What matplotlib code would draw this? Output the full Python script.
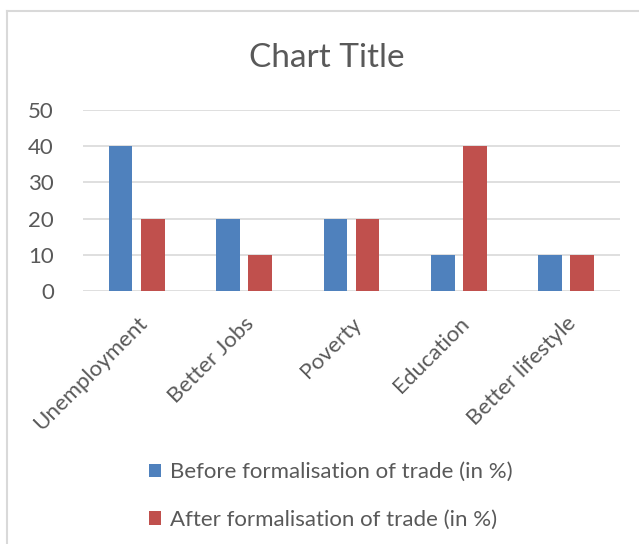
import matplotlib.pyplot as plt
import numpy as np
from matplotlib.lines import Line2D

categories = ["Unemployment", "Better Jobs", "Poverty", "Education", "Better lifestyle"]
before = [40, 20, 20, 10, 10]
after = [20, 10, 20, 40, 10]
series_names = ["Before formalisation of trade (in %)", "After formalisation of trade (in %)"]

plt.rcParams['font.family'] = ['Lato', 'DejaVu Sans']

fig = plt.figure(figsize=(6.39, 5.44), dpi=100)
ax = fig.add_axes([0.130, 0.465, 0.840, 0.333])

x = np.arange(len(categories))
w = 0.22
b1 = ax.bar(x - 0.15, before, width=w, color="#4F81BD", label=series_names[0], zorder=3)
b2 = ax.bar(x + 0.15, after, width=w, color="#C0504D", label=series_names[1], zorder=3)

ax.set_xlim(-0.5, len(categories) - 0.5)
ax.set_ylim(0, 50)
ax.set_yticks(range(0, 51, 10))
ax.yaxis.grid(True, color="#D9D9D9", linewidth=1.2, zorder=0)
for s in ax.spines.values():
    s.set_visible(False)
ax.tick_params(axis='both', length=0, labelsize=16, labelcolor="#595959")
ax.tick_params(axis='y', pad=21)
ax.set_xticks(x)
ax.set_xticklabels(categories, rotation=45, ha='right', rotation_mode='anchor')
ax.tick_params(axis='x', pad=16)

fig.text(0.512, 0.893, "Chart Title", ha='center', va='center', fontsize=24, color="#595959")

fig.legend(handles=[b1, b2], loc='upper left', bbox_to_anchor=(0.209, 0.179), ncol=1,
           frameon=False, fontsize=16, labelcolor="#595959", handlelength=0.55,
           handleheight=0.55, handletextpad=0.4, labelspacing=1.25, borderpad=0.2)

# chart area border (left and top only visible)
fig.add_artist(Line2D([0.011, 0.011], [0.0, 0.980], color="#D9D9D9", linewidth=1.5))
fig.add_artist(Line2D([0.011, 1.0], [0.980, 0.980], color="#D9D9D9", linewidth=1.5))

fig.savefig("out.png", dpi=100)
